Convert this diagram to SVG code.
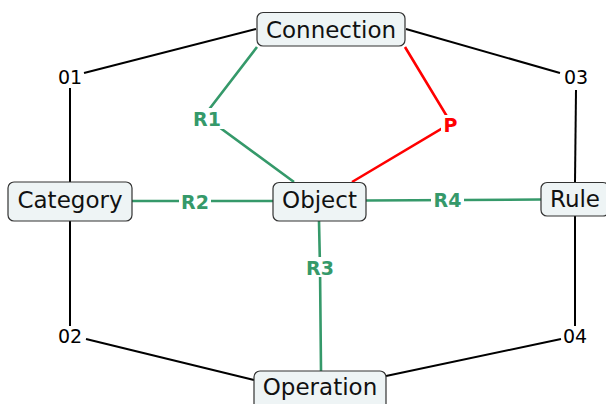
<svg xmlns="http://www.w3.org/2000/svg" width="606" height="404" viewBox="0 0 606 404">
<style>
.node rect{fill:#eef4f5;stroke:#333;stroke-width:1.2}
.node text{font-family:"DejaVu Sans",sans-serif;font-size:23px;fill:#111;text-anchor:middle}
.blk{fill:none;stroke:#000;stroke-width:2}
.grn{fill:none;stroke:#35996a;stroke-width:2.6}
.red{fill:none;stroke:#ff0000;stroke-width:2.6}
.lbl{font-family:"DejaVu Sans",sans-serif;font-size:19px;font-weight:bold;text-anchor:middle}
.lg{fill:#35996a}
.lr{fill:#ff0000}
.bg{fill:#fff}
.pt{font-family:"DejaVu Sans",sans-serif;font-size:19px;fill:#000;text-anchor:middle}
</style>
<rect width="606" height="404" fill="#fff"/>
<g id="connectors">
<polyline class="blk" points="256,29 84,73"/>
<polyline class="blk" points="70,88 70,182"/>
<polyline class="blk" points="70,221 70,326"/>
<polyline class="blk" points="86,339 254,380"/>
<polyline class="blk" points="386,376 561,339"/>
<polyline class="blk" points="575,326 575,216"/>
<polyline class="blk" points="575,182 576,90"/>
<polyline class="blk" points="560,73 406,29"/>
<polyline class="grn" points="257,47 204,116 294,182"/>
<polyline class="grn" points="132,201 273,201"/>
<polyline class="grn" points="319,221 320,267 321,371"/>
<polyline class="grn" points="366,200.5 541,199.5"/>
<polyline class="red" points="405,47 451,123 352,182"/>
<rect class="bg" x="190" y="108" width="34" height="21"/>
<text class="lbl lg" x="207" y="126">R1</text>
<rect class="bg" x="179" y="192" width="32" height="20"/>
<text class="lbl lg" x="195" y="209">R2</text>
<rect class="bg" x="304" y="257" width="32" height="20"/>
<text class="lbl lg" x="320" y="275">R3</text>
<rect class="bg" x="431" y="190" width="33" height="20"/>
<text class="lbl lg" x="447.5" y="206.5">R4</text>
<rect class="bg" x="441" y="115" width="19" height="20"/>
<text class="lbl lr" x="450.5" y="132">P</text>
<text class="pt" x="70" y="84">01</text>
<text class="pt" x="70" y="343">02</text>
<text class="pt" x="576" y="84">03</text>
<text class="pt" x="575" y="343">04</text>
</g>
<g id="node-connection" class="node">
<rect x="257" y="12.5" width="148" height="33.5" rx="6"/>
<text x="331" y="38">Connection</text>
</g>
<g id="node-category" class="node">
<rect x="8" y="182" width="124" height="39" rx="6"/>
<text x="70" y="208">Category</text>
</g>
<g id="node-object" class="node">
<rect x="273" y="182.5" width="93" height="38.5" rx="6"/>
<text x="319.5" y="207.5">Object</text>
</g>
<g id="node-rule" class="node">
<rect x="541" y="182.5" width="68" height="33.5" rx="6"/>
<text x="575" y="207">Rule</text>
</g>
<g id="node-operation" class="node">
<rect x="254" y="371" width="132" height="39" rx="6"/>
<text x="320" y="395">Operation</text>
</g>
</svg>
